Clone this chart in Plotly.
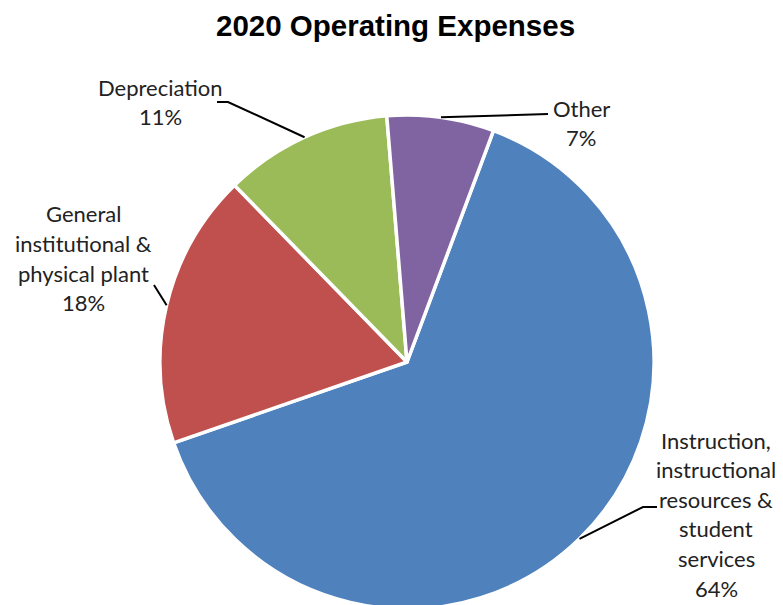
import math
import plotly.graph_objects as go

# ---- data ----
categories = ["Instruction, instructional resources & student services",
              "General institutional & physical plant",
              "Depreciation",
              "Other"]
values = [64, 18, 11, 7]
colors = ["#4F81BD", "#C0504D", "#9BBB59", "#8064A2"]
label_lines = [
    ["Instruction,", "instructional", "resources &", "student", "services"],
    ["General", "institutional &", "physical plant"],
    ["Depreciation"],
    ["Other"],
]

W, H = 783, 605
OFF = 8  # page body margin offset
CX, CY, R = 407 - OFF, 362 - OFF, 247
ROT = 20.5

# label block anchor (center x, first-line y) and leader elbow points (reference pixels)
label_pos = [(716, 440), (83, 214), (160, 87), (581, 108)]
leader_elbow = [[(643, 507), (657, 507)], [(154, 285)], [(228, 102), (217, 102)], [(548, 114)]]
LINE_H = 29.6

fig = go.Figure(go.Pie(
    labels=categories, values=values, sort=False, direction="clockwise",
    rotation=ROT, textinfo="none", hoverinfo="label+percent",
    marker=dict(colors=colors, line=dict(color="white", width=3.5)),
    domain=dict(x=[(CX - R) / W, (CX + R) / W], y=[(H - CY - R) / H, (H - CY + R) / H]),
    showlegend=False,
))

def px2paper(x, y):
    return x / W, 1 - y / H

total = sum(values)
cum = 0
annotations = []
shapes = []
for i, v in enumerate(values):
    mid = ROT + (cum + v / 2) / total * 360
    cum += v
    a = math.radians(mid)
    ex, ey = CX + R * math.sin(a), CY - R * math.cos(a)
    pct = f"{round(v / total * 100)}%"
    lines = label_lines[i] + [pct]
    lx, ly = label_pos[i]
    for j, t in enumerate(lines):
        x, y = px2paper(lx - OFF, ly - OFF + j * LINE_H)
        annotations.append(dict(x=x, y=y, xref="paper", yref="paper", text=t,
                                showarrow=False, xanchor="center", yanchor="middle",
                                font=dict(family="Lato, Carlito, sans-serif", size=22, color="#222")))
    pts = [(ex, ey)] + [(x - OFF, y - OFF) for x, y in leader_elbow[i]]
    path = "M " + " L ".join(f"{px2paper(x, y)[0]:.5f},{px2paper(x, y)[1]:.5f}" for x, y in pts)
    shapes.append(dict(type="path", path=path, xref="paper", yref="paper",
                       line=dict(color="black", width=2)))

annotations.append(dict(x=(395 - OFF) / W, y=1 - (26 - OFF) / H, xref="paper", yref="paper",
                        text="<b>2020 Operating Expenses</b>", showarrow=False,
                        xanchor="center", yanchor="middle",
                        font=dict(family="Liberation Sans, Arial, sans-serif", size=29.5, color="black")))

fig.update_layout(width=W, height=H, margin=dict(l=0, r=0, t=0, b=0),
                  paper_bgcolor="white", plot_bgcolor="white",
                  annotations=annotations, shapes=shapes)
fig.write_html("out.html")
